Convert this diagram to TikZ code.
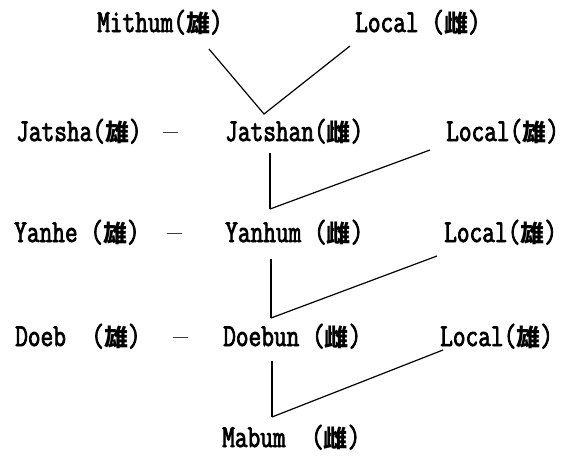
\documentclass[tikz,border=0pt]{standalone}
\usepackage{fontspec}
\newfontfamily\lmono{Latin Modern Mono}[FakeStretch=0.77, FakeBold=2.4]
\newfontfamily\jpfont{Noto Sans CJK JP}
\newfontfamily\dashfont{Liberation Serif}
\newcommand{\cjkm}{{\jpfont\bfseries\fontsize{24}{24}\selectfont 雄}}
\newcommand{\cjkf}{{\jpfont\bfseries\fontsize{24}{24}\selectfont 雌}}
\newcommand{\emd}{{\dashfont\fontsize{15}{15}\selectfont —}}
\begin{document}
\begin{tikzpicture}[x=1pt,y=-1pt,
  lbl/.style={anchor=base west, inner sep=0pt, font=\lmono\fontsize{32}{32}\selectfont},
  link/.style={line width=1.2pt, line join=miter},
  stem/.style={line width=2pt}]
\useasboundingbox (0,0) rectangle (562,455);
% row 1
\node[lbl] (mith) at (97,32) {Mithum(\cjkm)};
\node[lbl] (loc1) at (355,32) {Local (\cjkf)};
% row 2
\node[lbl] (jat)  at (16,141)  {Jatsha(\cjkm)};
\node[lbl] (d2)   at (163,136) {\emd};
\node[lbl] (jatf) at (225,141) {Jatshan(\cjkf)};
\node[lbl] (loc2) at (446,141) {Local(\cjkm)};
% row 3
\node[lbl] (yan)  at (14,242)  {Yanhe (\cjkm)};
\node[lbl] (d3)   at (167,237) {\emd};
\node[lbl] (yanf) at (225,242) {Yanhum (\cjkf)};
\node[lbl] (loc3) at (444,242) {Local(\cjkm)};
% row 4
\node[lbl] (doeb) at (15,346)  {Doeb\ \ (\cjkm)};
\node[lbl] (d4)   at (173,341) {\emd};
\node[lbl] (doef) at (223,346) {Doebun (\cjkf)};
\node[lbl] (loc4) at (440,346) {Local(\cjkm)};
% row 5
\node[lbl] (mab)  at (222,447) {Mabum\ \ (\cjkf)};
% connector points
\coordinate (a1) at (209,49);
\coordinate (j1) at (264,114);
\coordinate (b1) at (350,46);
\coordinate (a2) at (270,153);
\coordinate (j2) at (270,209);
\coordinate (b2) at (430,150);
\coordinate (a3) at (271,259);
\coordinate (j3) at (271,318);
\coordinate (b3) at (437,256);
\coordinate (a4) at (272,361);
\coordinate (j4) at (272,417);
\coordinate (b4) at (443,350);
\draw[link] (a1) -- (j1) -- (b1);
\draw[stem] (a2) -- (j2);
\draw[link] (j2) -- (b2);
\draw[stem] (a3) -- (j3);
\draw[link] (j3) -- (b3);
\draw[stem] (a4) -- (j4);
\draw[link] (j4) -- (b4);
\end{tikzpicture}
\end{document}
